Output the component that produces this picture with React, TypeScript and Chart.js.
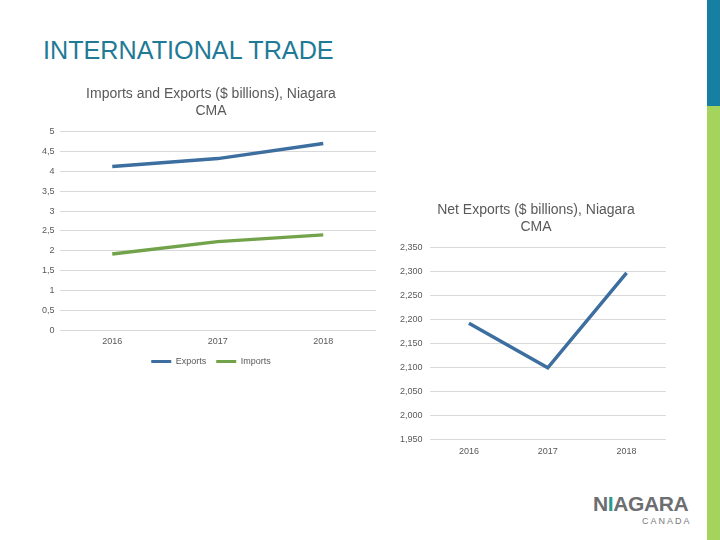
import React, { useEffect, useRef } from "react";
import { Chart, registerables } from "chart.js";

Chart.register(...registerables);

const years = ["2016", "2017", "2018"];
const exportsValues = [4.12, 4.32, 4.7];
const importsValues = [1.92, 2.23, 2.4];
const netExportsValues = [2192, 2099, 2297];

const leftTicks = { min: 0, max: 5, step: 0.5 };
const rightTicks = { min: 1950, max: 2350, step: 50 };

const FONT = "'Liberation Sans', Arial, sans-serif";
const TEXT = "#595959";
const GRID = "#D9D9D9";
const BLUE = "#3C6E9F";
const GREEN = "#72A34A";

// nudges the title / legend boxes after Chart.js layout (office-style placement)
function nudge(id: string, titleDx: number, legendDx: number, legendDy: number) {
  return {
    id,
    afterLayout(chart: any) {
      const t = chart.titleBlock;
      if (t) {
        t.left += titleDx;
        t.right += titleDx;
      }
      const l = chart.legend;
      if (l && l.options.display) {
        l.left += legendDx;
        l.right += legendDx;
        l.top += legendDy;
        l.bottom += legendDy;
      }
    },
  };
}

export default function App() {
  const leftRef = useRef<HTMLCanvasElement>(null);
  const rightRef = useRef<HTMLCanvasElement>(null);

  useEffect(() => {
    document.body.style.margin = "0";
    const left = new Chart(leftRef.current!, {
      type: "line",
      data: {
        labels: years,
        datasets: [
          {
            label: "Exports",
            data: exportsValues,
            borderColor: BLUE,
            backgroundColor: BLUE,
            borderWidth: 3.5,
            pointRadius: 0,
            tension: 0,
          },
          {
            label: "Imports",
            data: importsValues,
            borderColor: GREEN,
            backgroundColor: GREEN,
            borderWidth: 3.5,
            pointRadius: 0,
            tension: 0,
          },
        ],
      },
      plugins: [nudge("nudgeLeft", 4.5, 4.5, -6)],
      options: {
        animation: false,
        responsive: false,
        layout: { padding: { left: 4, right: 4, top: 0, bottom: 0 } },
        plugins: {
          title: {
            display: true,
            text: ["Imports and Exports ($ billions), Niagara", "CMA"],
            color: TEXT,
            font: { family: FONT, size: 14, weight: "normal" },
            padding: { top: 0, bottom: 12 },
          },
          legend: {
            display: true,
            position: "bottom",
            labels: {
              boxWidth: 20,
              boxHeight: 3,
              color: TEXT,
              font: { family: FONT, size: 9 },
              padding: 10,
              generateLabels: (chart: any) =>
                Chart.defaults.plugins.legend.labels
                  .generateLabels(chart)
                  .map((it: any) => ({ ...it, lineWidth: 0 })),
            },
          },
          tooltip: { enabled: false },
        },
        scales: {
          x: {
            offset: true,
            grid: { display: false, drawTicks: false },
            border: { display: false },
            ticks: { color: TEXT, font: { family: FONT, size: 9 }, padding: 6 },
          },
          y: {
            min: leftTicks.min,
            max: leftTicks.max,
            grid: { color: GRID, drawTicks: false },
            border: { display: false },
            ticks: {
              stepSize: leftTicks.step,
              color: TEXT,
              font: { family: FONT, size: 9 },
              padding: 5,
              callback: (v: any) => String(v).replace(".", ","),
            },
          },
        },
      },
    });

    const right = new Chart(rightRef.current!, {
      type: "line",
      data: {
        labels: years,
        datasets: [
          {
            label: "Net Exports",
            data: netExportsValues,
            borderColor: BLUE,
            backgroundColor: BLUE,
            borderWidth: 3.5,
            pointRadius: 0,
            tension: 0,
          },
        ],
      },
      plugins: [nudge("nudgeRight", 6.5, 0, 0)],
      options: {
        animation: false,
        responsive: false,
        layout: { padding: { left: 3, right: 4, top: 0, bottom: 0 } },
        plugins: {
          title: {
            display: true,
            text: ["Net Exports ($ billions), Niagara", "CMA"],
            color: TEXT,
            font: { family: FONT, size: 14, weight: "normal" },
            padding: { top: 0, bottom: 12 },
          },
          legend: { display: false },
          tooltip: { enabled: false },
        },
        scales: {
          x: {
            offset: true,
            grid: { display: false, drawTicks: false },
            border: { display: false },
            ticks: { color: TEXT, font: { family: FONT, size: 9 }, padding: 7 },
          },
          y: {
            min: rightTicks.min,
            max: rightTicks.max,
            grid: { color: GRID, drawTicks: false },
            border: { display: false },
            ticks: {
              stepSize: rightTicks.step,
              color: TEXT,
              font: { family: FONT, size: 9 },
              padding: 7,
              callback: (v: any) => Number(v).toLocaleString("en-US"),
            },
          },
        },
      },
    });

    return () => {
      left.destroy();
      right.destroy();
    };
  }, []);

  return (
    <div
      style={{
        position: "absolute",
        left: 0,
        top: 0,
        width: 720,
        height: 540,
        background: "#fff",
        overflow: "hidden",
        fontFamily: FONT,
      }}
    >
      <div
        style={{
          position: "absolute",
          left: 43,
          top: 35,
          fontSize: 25.2,
          lineHeight: "30px",
          color: "#1F7A96",
          whiteSpace: "nowrap",
        }}
      >
        INTERNATIONAL TRADE
      </div>
      <div style={{ position: "absolute", left: 707, top: 0, width: 13, height: 106, background: "#177FA2" }} />
      <div style={{ position: "absolute", left: 707, top: 106, width: 13, height: 434, background: "#A5D45D" }} />
      <canvas
        ref={leftRef}
        width={347}
        height={296}
        style={{ position: "absolute", left: 33, top: 86, width: 347, height: 296 }}
      />
      <canvas
        ref={rightRef}
        width={280}
        height={262}
        style={{ position: "absolute", left: 390, top: 202, width: 280, height: 262 }}
      />
      <div
        style={{
          position: "absolute",
          left: 593,
          top: 493,
          fontSize: 21,
          fontWeight: "bold",
          letterSpacing: -0.4,
          color: "#6D6E71",
          whiteSpace: "nowrap",
          lineHeight: "22px",
        }}
      >
        N<span style={{ color: "#2A9A8E" }}>I</span>AGARA
      </div>
      <div
        style={{
          position: "absolute",
          left: 642,
          top: 516,
          fontSize: 9,
          letterSpacing: 2,
          color: "#77787B",
          whiteSpace: "nowrap",
        }}
      >
        CANADA
      </div>
    </div>
  );
}
